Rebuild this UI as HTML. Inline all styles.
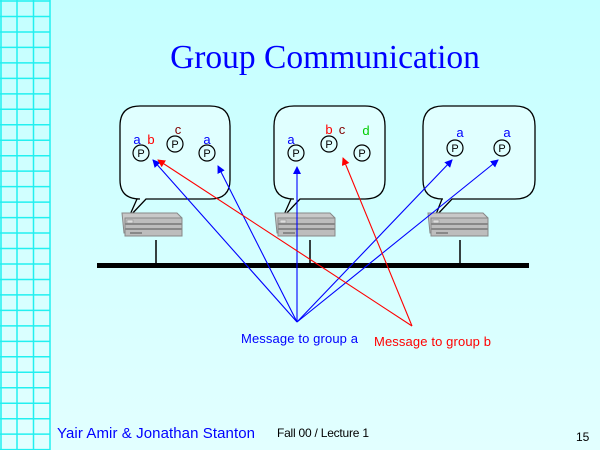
<!DOCTYPE html>
<html><head><style>
body{margin:0;width:600px;height:450px;overflow:hidden;background:linear-gradient(#c4ffff,#e2ffff);}
svg{display:block}
</style></head><body>
<svg width="600" height="450" viewBox="0 0 600 450" font-family="Liberation Sans, sans-serif">
<defs>
<marker id="ab" markerWidth="8" markerHeight="8" refX="7" refY="4" orient="auto" markerUnits="userSpaceOnUse"><path d="M0,0 L8,4 L0,8 Z" fill="#0000ff"/></marker>
<marker id="ar" markerWidth="8" markerHeight="8" refX="7" refY="4" orient="auto" markerUnits="userSpaceOnUse"><path d="M0,0 L8,4 L0,8 Z" fill="#ff0000"/></marker>
<g id="srv">
<path d="M0,2 L55,2 L60,7 L60,22 L2,22 Z" fill="#c8c8c8" stroke="#888"/>
<rect x="3" y="7" width="57" height="18" fill="#bdbdbd" stroke="#888"/>
<line x1="3" y1="13" x2="60" y2="13" stroke="#888" stroke-width="2"/>
<line x1="3" y1="18" x2="60" y2="18" stroke="#888" stroke-width="2"/>
<rect x="5" y="9" width="6" height="3" fill="#ddd" stroke="#888" stroke-width="0.5"/>
<rect x="8" y="21" width="12" height="2" fill="#888"/>
</g>
</defs>
<g stroke="#22f0f0" stroke-width="1.5">
<line x1="1" y1="0" x2="1" y2="450"/><line x1="17" y1="0" x2="17" y2="450"/><line x1="33.5" y1="0" x2="33.5" y2="450"/><line x1="50" y1="0" x2="50" y2="450"/>
</g>
<g stroke="#22f0f0" stroke-width="1.5" id="h"></g>
<script>
var g=document.getElementById('h');for(var i=0;i<30;i++){var y=1+i*15.47;var l=document.createElementNS('http://www.w3.org/2000/svg','line');l.setAttribute('x1',0);l.setAttribute('x2',50);l.setAttribute('y1',y);l.setAttribute('y2',y);g.appendChild(l);}
</script>
<text x="325" y="68" text-anchor="middle" font-family="Liberation Serif, serif" font-size="33.5" fill="#0000ff">Group Communication</text>
<g fill="#e0ffff" stroke="#000" stroke-width="1.3">
<path d="M140,106 H210 Q230,106 230,126 V180 Q230,199 210,199 H146 L129,217 L137,199 H140 Q120,199 120,180 V126 Q120,106 140,106 Z"/>
<path d="M294,106 H365 Q385,106 385,126 V180 Q385,199 365,199 H300 L283,217 L291,199 H294 Q274,199 274,180 V126 Q274,106 294,106 Z"/>
<path d="M443,106 H515 Q535,106 535,126 V180 Q535,199 515,199 H452 L435,217 L442,199 H443 Q423,199 423,180 V126 Q423,106 443,106 Z"/>
</g>
<use href="#srv" x="122" y="211"/><use href="#srv" x="275" y="211"/><use href="#srv" x="428" y="211"/>
<g stroke="#000" stroke-width="1.5">
<line x1="156" y1="240" x2="156" y2="265"/><line x1="310" y1="240" x2="310" y2="265"/><line x1="460" y1="240" x2="460" y2="265"/>
</g>
<line x1="97" y1="265.5" x2="529" y2="265.5" stroke="#000" stroke-width="5"/>
<g fill="none" stroke="#000" stroke-width="1.2">
<circle cx="141" cy="153" r="8"/><circle cx="175" cy="144" r="8"/><circle cx="207" cy="153" r="8"/>
<circle cx="296" cy="153" r="8"/><circle cx="329" cy="144" r="8"/><circle cx="362" cy="153" r="8"/>
<circle cx="455" cy="148" r="8"/><circle cx="502" cy="148" r="8"/>
</g>
<g font-size="11" text-anchor="middle" fill="#000">
<text x="141" y="157">P</text><text x="175" y="148">P</text><text x="207" y="157">P</text>
<text x="296" y="157">P</text><text x="329" y="148">P</text><text x="362" y="157">P</text>
<text x="455" y="152">P</text><text x="502" y="152">P</text>
</g>
<g font-size="13" text-anchor="middle">
<text x="137" y="144" fill="#0000ff">a</text><text x="151" y="144" fill="#ff0000">b</text><text x="178" y="134" fill="#800000">c</text><text x="207" y="144" fill="#0000ff">a</text>
<text x="291" y="144" fill="#0000ff">a</text><text x="329" y="134" fill="#ff0000">b</text><text x="342" y="134" fill="#800000">c</text><text x="366" y="135" fill="#00cc00">d</text>
<text x="460" y="137" fill="#0000ff">a</text><text x="507" y="137" fill="#0000ff">a</text>
</g>
<g stroke="#0000ff" stroke-width="1.1" marker-end="url(#ab)">
<line x1="297" y1="322" x2="153" y2="160"/>
<line x1="297" y1="322" x2="218" y2="166"/>
<line x1="297" y1="322" x2="297" y2="167"/>
<line x1="297" y1="322" x2="452" y2="160"/>
<line x1="297" y1="322" x2="498" y2="160"/>
</g>
<g stroke="#ff0000" stroke-width="1.1" marker-end="url(#ar)">
<line x1="412" y1="326" x2="158" y2="160"/>
<line x1="412" y1="326" x2="343" y2="158"/>
</g>
<text x="241" y="343" font-size="13" textLength="117" fill="#0000ff">Message to group a</text>
<text x="374" y="346" font-size="13" textLength="117" fill="#ff0000">Message to group b</text>
<text x="57" y="438" font-size="15" textLength="198" fill="#0000ff">Yair Amir &amp; Jonathan Stanton</text>
<text x="277" y="437" font-size="12" textLength="92" fill="#000">Fall 00 / Lecture 1</text>
<text x="576" y="441" font-size="12" fill="#000">15</text>
</svg>
</body></html>
